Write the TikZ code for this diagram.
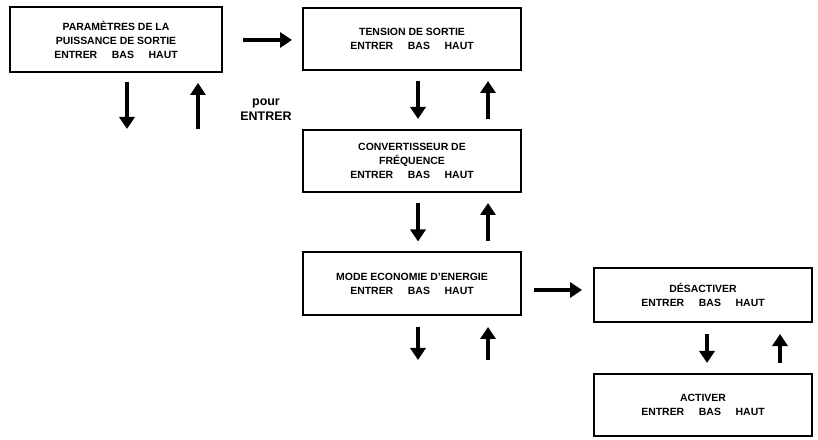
\documentclass[tikz,border=0pt]{standalone}
\usepackage{fontspec}
\setmainfont{Liberation Sans}
\usetikzlibrary{arrows.meta,positioning}
\newcommand{\keyrow}{ENTRER\hspace{1.4em}BAS\hspace{1.4em}HAUT}

\begin{document}
\begin{tikzpicture}[x=1bp,y=-1bp,
    menu/.style={rectangle, draw, line width=2bp, minimum width=218bp, minimum height=62bp,
      align=center, font=\fontsize{10.5}{14}\selectfont\bfseries, inner sep=2bp},
    navarrow/.style={-{Triangle[length=12bp,width=15bp]}, line width=3.8bp}]
    \useasboundingbox (0,0) rectangle (818,440);
    % Menu boxes
    \node[menu, minimum width=212bp, minimum height=65bp] (power) at (116,40) {PARAMÈTRES DE LA\\PUISSANCE DE SORTIE\\\keyrow};
    \node[menu] (volt) at (412,39) {TENSION DE SORTIE\\\keyrow};
    \node[menu] (freq) at (412,161) {CONVERTISSEUR DE\\FRÉQUENCE\\\keyrow};
    \node[menu, minimum height=63bp] (eco) at (412,284) {MODE ECONOMIE D'ENERGIE\\\keyrow};
    \node[menu, minimum height=54bp] (off) at (703,295) {DÉSACTIVER\\\keyrow};
    \node[menu] (on) at (703,405) {ACTIVER\\\keyrow};
    \node[align=center, font=\fontsize{12.5}{15}\selectfont\bfseries] (enter) at (266,110) {pour\\ENTRER};

    % Navigation arrows
    \coordinate (d1a) at (127,82);  \coordinate (d1b) at (127,129);
    \coordinate (u1a) at (198,129); \coordinate (u1b) at (198,83);
    \coordinate (ra) at (243,40);   \coordinate (rb) at (292,40);
    \coordinate (re) at (534,290);  \coordinate (rf) at (582,290);
    \draw[navarrow] (d1a) -- (d1b);
    \draw[navarrow] (u1a) -- (u1b);
    \draw[navarrow] (ra) -- (rb);
    \draw[navarrow] (re) -- (rf);
    \foreach \src/\dst in {volt/freq, freq/eco}{
      \draw[navarrow] ([xshift=6bp,yshift=-10bp]\src.south) -- ([xshift=6bp,yshift=10bp]\dst.north);
      \draw[navarrow] ([xshift=76bp,yshift=10bp]\dst.north) -- ([xshift=76bp,yshift=-10bp]\src.south);
    }
    \draw[navarrow] ([xshift=4bp,yshift=-11bp]off.south) -- ([xshift=4bp,yshift=10bp]on.north);
    \draw[navarrow] ([xshift=77bp,yshift=10bp]on.north) -- ([xshift=77bp,yshift=-11bp]off.south);
    \coordinate (ea) at (418,327); \coordinate (eb) at (418,360);
    \coordinate (ec) at (488,360); \coordinate (ed) at (488,327);
    \draw[navarrow] (ea) -- (eb);
    \draw[navarrow] (ec) -- (ed);
\end{tikzpicture}
\end{document}
